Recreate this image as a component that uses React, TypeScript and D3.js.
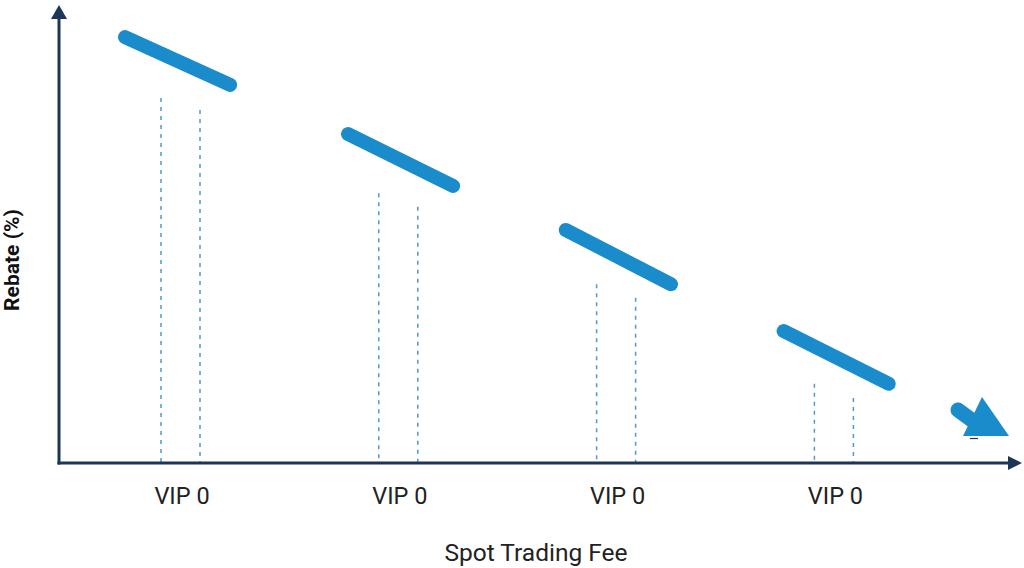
import React from "react";
import * as d3 from "d3";

const tiers = ["VIP 0", "VIP 0", "VIP 0", "VIP 0"];
const segStart = [0.936, 0.723, 0.512, 0.29];
const segEnd = [0.831, 0.609, 0.393, 0.174];
const dashTopLeft = [0.802, 0.593, 0.393, 0.174];
const dashTopRight = [0.776, 0.563, 0.363, 0.143];
const xTitle = "Spot Trading Fee";
const yTitle = "Rebate (%)";

const W = 1024;
const H = 568;
const axisColor = "#1d3557";
const blue = "#1b8ccb";
const dashColor = "#4f98cc";

export default function App() {
  const x0 = 59;
  const y0 = 463;
  const x = d3.scaleLinear().domain([0, 1]).range([180.5, 398.3]);
  const y = d3.scaleLinear().domain([0, 1]).range([y0, 8]);
  const line = d3.line<[number, number]>().x((d) => d[0]).y((d) => d[1]);

  return (
    <svg
      width={W}
      height={H}
      style={{ position: "absolute", left: 0, top: 0, background: "#fff" }}
      fontFamily="Roboto, 'Noto Sans', sans-serif"
    >
      {tiers.map((_, i) => (
        <g key={"d" + i}>
          <line
            x1={x(i) - 19.5}
            x2={x(i) - 19.5}
            y1={y(dashTopLeft[i])}
            y2={y0}
            stroke={dashColor}
            strokeWidth={1.5}
            strokeDasharray="4,5"
          />
          <line
            x1={x(i) + 19.5}
            x2={x(i) + 19.5}
            y1={y(dashTopRight[i])}
            y2={y0}
            stroke={dashColor}
            strokeWidth={1.5}
            strokeDasharray="4,5"
          />
        </g>
      ))}
      {tiers.map((_, i) => {
        const off = i === 0 ? 0 : 0.024;
        return (
          <path
            key={"s" + i}
            d={
              line([
                [x(i - 0.255 + off), y(segStart[i])],
                [x(i + 0.228 + off), y(segEnd[i])],
              ]) || ""
            }
            stroke={blue}
            strokeWidth={14}
            strokeLinecap="round"
            fill="none"
          />
        );
      })}
      <path d="M958,410 L973,421" stroke={blue} strokeWidth={15} strokeLinecap="round" fill="none" />
      <path d="M982,397 L1009,436 L963,436 Z" fill={blue} />
      <line x1={970} x2={978} y1={438.5} y2={438.5} stroke={axisColor} strokeWidth={1.2} />
      <line x1={x0} x2={x0} y1={18} y2={y0 + 1.5} stroke={axisColor} strokeWidth={3} />
      <path d={`M${x0 - 8},${19} L${x0},${5} L${x0 + 8},${19} Z`} fill={axisColor} />
      <line x1={x0 - 1.5} x2={1010} y1={y0} y2={y0} stroke={axisColor} strokeWidth={3} />
      <path d={`M${1008},${y0 - 7} L${1022},${y0} L${1008},${y0 + 7} Z`} fill={axisColor} />
      {tiers.map((t, i) => (
        <text key={"t" + i} x={x(i) + 1.5} y={504} textAnchor="middle" fontSize={23.5} fill="#222">
          {t}
        </text>
      ))}
      <text x={536} y={561} textAnchor="middle" fontSize={24.5} fill="#222">
        {xTitle}
      </text>
      <text
        transform="translate(19,260) rotate(-90)"
        textAnchor="middle"
        fontSize={21}
        fontWeight="bold"
        fill="#111"
      >
        {yTitle}
      </text>
    </svg>
  );
}
